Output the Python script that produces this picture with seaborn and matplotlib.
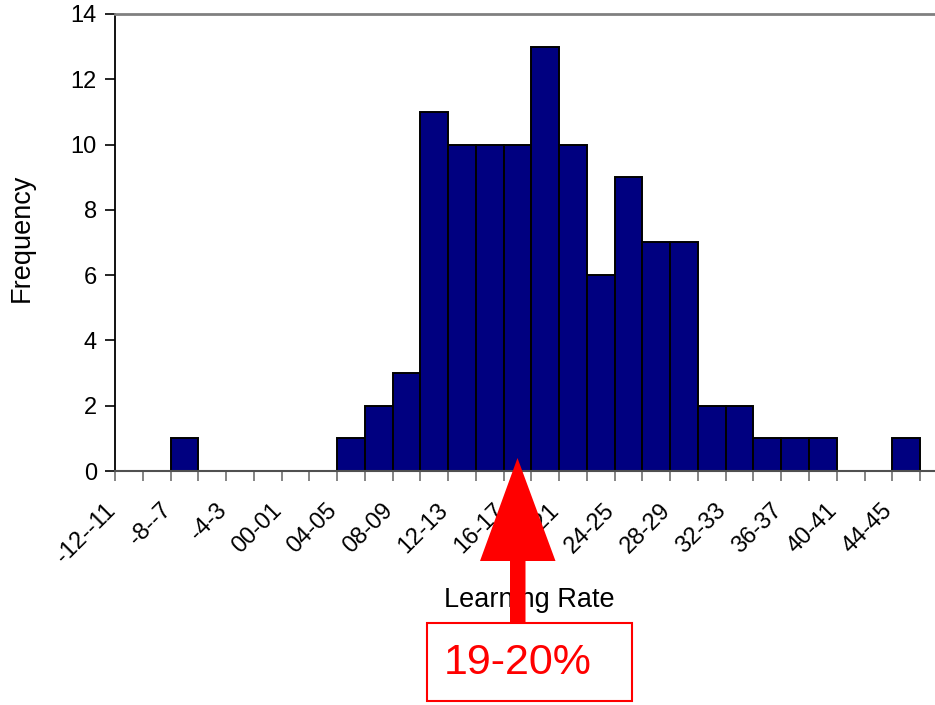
import matplotlib
matplotlib.use("Agg")
import matplotlib.pyplot as plt
from matplotlib.patches import Polygon, Rectangle
from matplotlib.transforms import ScaledTranslation
import seaborn as sns
import pandas as pd

bins = ["-12--11", "-10--9", "-8--7", "-6--5", "-4-3", "-2-1", "00-01", "02-03",
        "04-05", "06-07", "08-09", "10-11", "12-13", "14-15", "16-17", "18-19",
        "20-21", "22-23", "24-25", "26-27", "28-29", "30-31", "32-33", "34-35",
        "36-37", "38-39", "40-41", "42-43", "44-45", "46-47"]
freq = [0, 0, 1, 0, 0, 0, 0, 0,
        1, 2, 3, 11, 10, 10, 10, 13,
        10, 6, 9, 7, 7, 2, 2, 1,
        1, 1, 0, 0, 1, 0]
yticks = [0, 2, 4, 6, 8, 10, 12, 14]
x_label = "Learning Rate"
y_label = "Frequency"
callout = "19-20%"

sns.set_style("white")
plt.rcParams['font.family'] = ['Liberation Sans', 'DejaVu Sans']
for k in ["text.color", "axes.labelcolor", "xtick.color", "ytick.color"]:
    plt.rcParams[k] = "black"

W, H = 935, 705
fig = plt.figure(figsize=(W / 100, H / 100), dpi=100)
left_px, right_px, top_px, bot_px = 115, 115 + 27.76 * 30, 14, 471
ax = fig.add_axes([left_px / W, 1 - bot_px / H, (right_px - left_px) / W, (bot_px - top_px) / H])

df = pd.DataFrame({"bin": bins, "freq": freq})
sns.barplot(data=df, x="bin", y="freq", order=bins, color="#000080", width=1.0,
            edgecolor="black", linewidth=1.4, saturation=1, ax=ax)
for p in ax.patches:
    if p.get_height() == 0:
        p.set_linewidth(0)

ax.set_xlim(-0.5, len(bins) - 0.5)
ax.set_ylim(0, 14)
ax.set_yticks(yticks)
ax.set_yticklabels([str(v) for v in yticks], fontsize=17)
ax.tick_params(axis="y", direction="out", length=7, width=1.2, color="black", left=True, pad=6)

# x labels every other bin
pos = list(range(0, len(bins) - 1, 2))
ax.set_xticks(pos)
ax.set_xticklabels([bins[i] for i in pos], rotation=45, ha="right", va="center",
                   rotation_mode="anchor", fontsize=17)
ax.tick_params(axis="x", which="major", length=0, pad=36 * 0.72)
shift = ScaledTranslation(-17 / 100, 0, fig.dpi_scale_trans)
for lbl in ax.get_xticklabels():
    lbl.set_transform(lbl.get_transform() + shift)
ax.set_xticks([i - 0.5 for i in range(len(bins) + 1)], minor=True)
ax.tick_params(axis="x", which="minor", direction="out", length=7, width=1.2, color="#707070", bottom=True)

ax.spines["left"].set_color("black")
ax.spines["left"].set_linewidth(1.3)
ax.spines["bottom"].set_color("#505050")
ax.spines["bottom"].set_linewidth(1.5)
ax.spines["top"].set_color("#808080")
ax.spines["top"].set_linewidth(2)
ax.spines["right"].set_visible(False)

ax.set_xlabel("")
ax.set_ylabel("")
fig.text(529 / W, 1 - 607 / H, x_label, fontsize=19.5, ha="center", va="baseline")
fig.text(22 / W, 1 - 238 / H, y_label, fontsize=19.5, ha="center", va="center", rotation=90)

# red arrow
pts_px = [(517.5, 458), (555.5, 561), (525.5, 561), (525.5, 623), (510, 623), (510, 561), (480, 561)]
pts = [(x / W, 1 - y / H) for x, y in pts_px]
fig.add_artist(Polygon(pts, closed=True, transform=fig.transFigure, facecolor="#ff0000",
                       edgecolor="none", zorder=10))

# callout box
bx0, bx1, by0, by1 = 427, 632, 623, 701
fig.add_artist(Rectangle((bx0 / W, 1 - by1 / H), (bx1 - bx0) / W, (by1 - by0) / H,
                         transform=fig.transFigure, facecolor="white", edgecolor="#ff0000",
                         linewidth=1.5, zorder=9))
fig.text(518 / W, 1 - 663 / H, callout, fontsize=31, color="#ff0000", ha="center", va="center", zorder=11)

fig.savefig("out.png", dpi=100)
